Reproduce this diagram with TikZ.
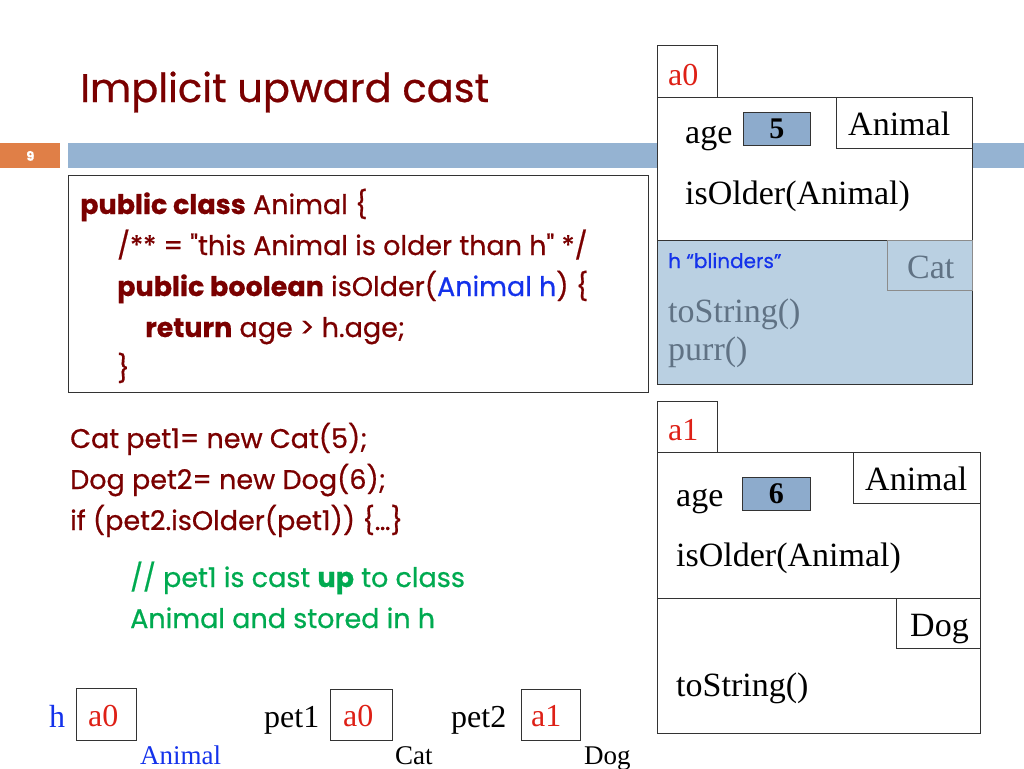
\documentclass[tikz,border=0pt]{standalone}
\usepackage{fontspec}
\setmainfont{Liberation Serif}
\newfontfamily\codefont[FakeBold=0.6]{Poppins}
\usetikzlibrary{positioning}
\definecolor{TitleRed}{RGB}{122,0,0}
\definecolor{BarBlue}{RGB}{149,179,210}
\definecolor{SlideOrange}{RGB}{224,127,71}
\definecolor{ValBlue}{RGB}{141,171,204}
\definecolor{CatBlue}{RGB}{186,208,226}
\definecolor{CatGray}{RGB}{96,114,132}
\definecolor{RefRed}{RGB}{222,32,22}
\definecolor{HBlue}{RGB}{20,50,235}
\definecolor{NoteGreen}{RGB}{0,170,80}

\begin{document}
\begin{tikzpicture}[x=1pt,y=-1pt,
 box/.style={draw=black!80,line width=0.8pt,anchor=north west,inner sep=0pt},
 valbox/.style={box,fill=ValBlue,minimum width=67pt,minimum height=33pt},
 tab/.style={box,fill=white,minimum width=60pt,minimum height=52pt},
 txt/.style={anchor=base west,inner sep=0pt,font=\fontsize{34}{40}\selectfont},
 ref/.style={txt,text=RefRed,font=\fontsize{32}{38}\selectfont},
 code/.style={anchor=base west,inner sep=0pt,text=TitleRed,
  font=\codefont\fontsize{27}{41}\selectfont},
 note/.style={code,text=NoteGreen}]

\useasboundingbox (0,0) rectangle (1024,768);

% title and bar
\node[anchor=base west,inner sep=0pt,text=TitleRed,
 font=\codefont\fontsize{40}{48}\selectfont] (title) at (80,102) {Implicit upward cast};
\node[box,draw=none,fill=SlideOrange,minimum width=60pt,minimum height=25pt] (num) at (0,143) {};
\node[text=white,font=\codefont\bfseries\fontsize{13}{15}\selectfont] at (num.center) {9};
\node[box,draw=none,fill=BarBlue,minimum width=956pt,minimum height=25pt] (bar) at (68,143) {};

% class Animal
\node[box,line width=0.6pt,minimum width=580pt,minimum height=217pt] (codebox) at (68,175) {};
\node[code] (c1) at (80,214) {\textbf{public class} Animal \{};
\node[code] (c2) at (117,255) {/** = "this Animal is older than h" */};
\node[code] (c3) at (117,296) {\textbf{public boolean} isOlder(\textcolor{HBlue}{Animal h}) \{};
\node[code] (c4) at (145,337) {\textbf{return} age > h.age;};
\node[code] (c5) at (117,378) {\}};

% object a0
\node[tab] (a0tab) at (657,45) {};
\node[ref] (a0name) at (668,85) {a0};
\node[box,fill=white,minimum width=315pt,minimum height=143pt] (a0obj) at (657,97) {};
\node[box,fill=white,minimum width=136pt,minimum height=51pt] (a0cls) at (836,97) {};
\node[txt] at (848,135) {Animal};
\node[txt] (a0age) at (685,143) {age};
\node[valbox] (a0val) at (743,112) {};
\node[font=\bfseries\fontsize{30}{34}\selectfont] at (a0val.center) {5};
\node[txt] (a0meth) at (685,204) {isOlder(Animal)};
\node[box,fill=CatBlue,minimum width=315pt,minimum height=144pt] (catpart) at (657,240) {};
\node[box,draw=black!45,fill=CatBlue,minimum width=85pt,minimum height=50pt] (catcls) at (887,240) {};
\node[txt,text=CatGray] at (907,278) {Cat};
\node[anchor=base west,inner sep=0pt,text=HBlue,
 font=\codefont\fontsize{20}{24}\selectfont] (blind) at (668,268) {h “blinders”};
\node[txt,text=CatGray] (tostr0) at (668,322) {toString()};
\node[txt,text=CatGray] (purr) at (668,360) {purr()};

% object a1
\node[tab] (a1tab) at (657,401) {};
\node[ref] (a1name) at (668,440) {a1};
\node[box,fill=white,minimum width=323pt,minimum height=146pt] (a1obj) at (657,452) {};
\node[box,fill=white,minimum width=127pt,minimum height=51pt] (a1cls) at (853,452) {};
\node[txt] at (865,490) {Animal};
\node[txt] (a1age) at (676,506) {age};
\node[valbox,minimum width=68pt] (a1val) at (742,477) {};
\node[font=\bfseries\fontsize{30}{34}\selectfont] at (a1val.center) {6};
\node[txt] (a1meth) at (676,566) {isOlder(Animal)};
\node[box,fill=white,minimum width=323pt,minimum height=135pt] (dogpart) at (657,598) {};
\node[box,fill=white,minimum width=84pt,minimum height=50pt] (dogcls) at (896,598) {};
\node[txt] at (910,636) {Dog};
\node[txt] (tostr1) at (676,696) {toString()};

% calls
\node[code] (l1) at (70,448) {Cat pet1= new Cat(5);};
\node[code] (l2) at (70,489) {Dog pet2= new Dog(6);};
\node[code] (l3) at (70,530) {if (pet2.isOlder(pet1)) \{…\}};
\node[note] (n1) at (130,587) {// pet1 is cast \textbf{up} to class};
\node[note] (n2) at (130,628) {Animal and stored in h};

% variables
\node[txt,text=HBlue,font=\fontsize{32}{38}\selectfont] (hvar) at (49,727) {h};
\node[box,minimum width=60pt,minimum height=52pt] (hbox) at (76,688) {};
\node[ref] at (88,726) {a0};
\node[txt,text=HBlue,font=\fontsize{27}{32}\selectfont] (htype) at (140,764) {Animal};
\node[txt,font=\fontsize{32}{38}\selectfont] (p1var) at (264,727) {pet1};
\node[box,minimum width=62pt,minimum height=51pt] (p1box) at (330,689) {};
\node[ref] at (343,726) {a0};
\node[txt,font=\fontsize{27}{32}\selectfont] (p1type) at (395,764) {Cat};
\node[txt,font=\fontsize{32}{38}\selectfont] (p2var) at (451,727) {pet2};
\node[box,minimum width=59pt,minimum height=51pt] (p2box) at (521,689) {};
\node[ref] at (531,726) {a1};
\node[txt,font=\fontsize{27}{32}\selectfont] (p2type) at (584,764) {Dog};
\end{tikzpicture}
\end{document}
